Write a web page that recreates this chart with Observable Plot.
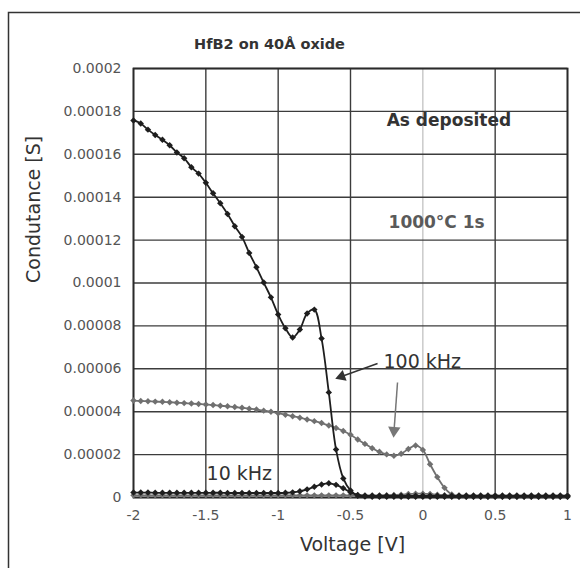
<!DOCTYPE html>
<html>
<head>
<meta charset="utf-8">
<script src="https://cdn.jsdelivr.net/npm/d3@7"></script>
<script src="https://cdn.jsdelivr.net/npm/@observablehq/plot@0.6"></script>
<style>
  html, body { margin: 0; padding: 0; background: #fff; overflow: hidden; }
</style>
</head>
<body>
<div id="chart"></div>
<script>
// Voltage sweep (V)
const voltage = [
  -2.00, -1.95, -1.90, -1.85, -1.80, -1.75, -1.70, -1.65, -1.60, -1.55,
  -1.50, -1.45, -1.40, -1.35, -1.30, -1.25, -1.20, -1.15, -1.10, -1.05,
  -1.00, -0.95, -0.90, -0.85, -0.80, -0.75, -0.70, -0.65, -0.60, -0.55,
  -0.50, -0.45, -0.40, -0.35, -0.30, -0.25, -0.20, -0.15, -0.10, -0.05,
   0.00,  0.05,  0.10,  0.15,  0.20,  0.25,  0.30,  0.35,  0.40,  0.45,
   0.50,  0.55,  0.60,  0.65,  0.70,  0.75,  0.80,  0.85,  0.90,  0.95,
   1.00
];

// Conductance values in microsiemens (µS)
// As deposited, 100 kHz (dark)
const asDep100k = [
  175.8, 174.4, 171.5, 169.0, 166.8, 164.2, 160.8, 158.2, 154.0, 151.0,
  146.7, 141.8, 137.2, 132.2, 126.5, 121.5, 114.0, 107.3, 100.2, 93.3,
  85.3, 78.9, 74.6, 78.3, 85.8, 87.6, 74.1, 49.0, 22.4, 8.9,
  3.3, 0.8, 0.4, 0.3, 0.3, 0.3, 0.3, 0.3, 0.3, 0.3,
  0.3, 0.3, 0.3, 0.3, 0.3, 0.3, 0.3, 0.3, 0.3, 0.3,
  0.3, 0.3, 0.3, 0.3, 0.3, 0.3, 0.3, 0.3, 0.3, 0.3,
  0.3
];
// As deposited, 10 kHz (dark)
const asDep10k = [
  2.3, 2.3, 2.3, 2.2, 2.2, 2.2, 2.2, 2.2, 2.2, 2.2,
  2.2, 2.2, 2.2, 2.1, 2.1, 2.1, 2.1, 2.1, 2.1, 2.1,
  2.1, 2.2, 2.4, 2.9, 3.8, 5.0, 6.1, 6.6, 5.9, 4.3,
  2.4, 1.2, 0.8, 0.8, 0.8, 0.8, 0.8, 0.8, 0.8, 0.8,
  0.8, 0.8, 0.8, 0.8, 0.8, 0.8, 0.8, 0.8, 0.8, 0.8,
  0.8, 0.8, 0.8, 0.8, 0.8, 0.8, 0.8, 0.8, 0.8, 0.8,
  0.8
];
// 1000°C 1s anneal, 100 kHz (gray)
const anneal100k = [
  45.2, 45.0, 44.9, 44.7, 44.6, 44.4, 44.2, 44.0, 43.8, 43.6,
  43.4, 43.1, 42.8, 42.5, 42.2, 41.8, 41.4, 41.0, 40.5, 40.0,
  39.3, 38.6, 37.9, 37.2, 36.4, 35.6, 34.7, 33.6, 32.4, 31.0,
  29.3, 27.0, 25.0, 23.0, 21.3, 20.1, 19.5, 20.4, 22.6, 24.2,
  22.2, 15.5, 9.5, 4.5, 1.4, 0.5, 0.3, 0.3, 0.3, 0.3,
  0.3, 0.3, 0.3, 0.3, 0.3, 0.3, 0.3, 0.3, 0.3, 0.3,
  0.3
];
// 1000°C 1s anneal, 10 kHz (gray)
const anneal10k = [
  1.0, 1.0, 1.0, 1.0, 1.0, 1.0, 1.0, 1.0, 1.0, 1.0,
  1.0, 1.0, 1.0, 1.0, 1.0, 1.0, 1.0, 1.0, 1.0, 1.0,
  1.0, 1.0, 1.0, 1.0, 1.0, 1.0, 1.0, 1.0, 1.0, 1.0,
  1.0, 1.0, 1.0, 1.0, 1.0, 1.1, 1.2, 1.3, 1.6, 1.8,
  1.8, 1.6, 1.3, 1.1, 1.0, 1.0, 1.0, 1.0, 1.0, 1.0,
  1.0, 1.0, 1.0, 1.0, 1.0, 1.0, 1.0, 1.0, 1.0, 1.0,
  1.0
];

// Axis ticks and labels
const xTicks = [-2, -1.5, -1, -0.5, 0, 0.5, 1];
const xTickLabels = ["-2", "-1.5", "-1", "-0.5", "0", "0.5", "1"];
const yTicks = [0, 0.00002, 0.00004, 0.00006, 0.00008, 0.0001, 0.00012, 0.00014, 0.00016, 0.00018, 0.0002];
const yTickLabels = ["0", "0.00002", "0.00004", "0.00006", "0.00008", "0.0001", "0.00012", "0.00014", "0.00016", "0.00018", "0.0002"];

// Texts
const titleText = "HfB2 on 40Å oxide";
const xLabel = "Voltage [V]";
const yLabel = "Condutance [S]";

// Annotations (data coordinates)
const labelAsDep = [{x: -0.25, y: 0.0001758, text: "As deposited"}];
const labelAnneal = [{x: -0.237, y: 0.0001282, text: "1000°C 1s"}];
const labelFreq = [
  {x: -0.272, y: 0.0000632, text: "100 kHz"},
  {x: -1.495, y: 0.0000110, text: "10 kHz"}
];
// Arrows: tail -> triangle centre
const arrowDark = [{x1: -0.313, y1: 0.0000625, x2: -0.562, y2: 0.0000564, angle: -109.6}];
const arrowGray = [{x1: -0.175, y1: 0.0000536, x2: -0.199, y2: 0.0000312, angle: -175.8}];

const toSeries = (vals) => voltage.map((v, i) => ({v, g: vals[i] * 1e-6}));
const sDep100 = toSeries(asDep100k);
const sDep10 = toSeries(asDep10k);
const sAnn100 = toSeries(anneal100k);
const sAnn10 = toSeries(anneal10k);

const dark = "#1e1e1e";
const gray = "#707070";
const gridColor = "#3c3c3c";

const xFmt = d => xTickLabels[Math.round((d + 2) / 0.5)];
const yFmt = d => yTickLabels[Math.round(d / 0.00002)];

const seriesMarks = (data, color) => [
  Plot.line(data, {x: "v", y: "g", stroke: color, strokeWidth: 1.8, curve: "catmull-rom"}),
  Plot.dot(data, {x: "v", y: "g", fill: color, symbol: "diamond2", r: 2.9})
];

const plot = Plot.plot({
  width: 580,
  height: 568,
  marginLeft: 133,
  marginRight: 13,
  marginTop: 68,
  marginBottom: 71,
  style: {fontFamily: "DejaVu Sans, Verdana, sans-serif", background: "#fff", color: "#555"},
  x: {domain: [-2, 1], label: null},
  y: {domain: [0, 0.0002], label: null},
  marks: [
    Plot.gridX(xTicks.filter(d => d !== 0), {stroke: gridColor, strokeOpacity: 1, strokeWidth: 1.4}),
    Plot.gridX([0], {stroke: "#c6c6c6", strokeOpacity: 1, strokeWidth: 1.4}),
    Plot.gridY(yTicks, {stroke: gridColor, strokeOpacity: 1, strokeWidth: 1.4}),
    Plot.frame({stroke: "#2a2a2a", strokeWidth: 1.8}),
    Plot.axisX(xTicks, {tickSize: 0, tickPadding: 13, fontSize: 14, tickFormat: xFmt, label: null}),
    Plot.axisY(yTicks, {tickSize: 0, tickPadding: 12, fontSize: 14, tickFormat: yFmt, label: null}),
    ...seriesMarks(sAnn10, gray),
    ...seriesMarks(sAnn100, gray),
    ...seriesMarks(sDep10, dark),
    ...seriesMarks(sDep100, dark),
    // arrows
    Plot.link(arrowDark, {x1: "x1", y1: "y1", x2: "x2", y2: "y2", stroke: "#333", strokeWidth: 1.5}),
    Plot.dot(arrowDark, {x: "x2", y: "y2", symbol: "triangle", r: 4.3, fill: "#333", rotate: "angle"}),
    Plot.link(arrowGray, {x1: "x1", y1: "y1", x2: "x2", y2: "y2", stroke: "#777", strokeWidth: 1.5}),
    Plot.dot(arrowGray, {x: "x2", y: "y2", symbol: "triangle", r: 4.6, fill: "#777", rotate: "angle"}),
    // annotations
    Plot.text(labelAsDep, {x: "x", y: "y", text: "text", textAnchor: "start", fontSize: 17, fontWeight: "bold", fill: "#333"}),
    Plot.text(labelAnneal, {x: "x", y: "y", text: "text", textAnchor: "start", fontSize: 17, fontWeight: "bold", fill: "#5a5a5a"}),
    Plot.text(labelFreq, {x: "x", y: "y", text: "text", textAnchor: "start", fontSize: 19, fill: "#333"}),
    // title and axis labels
    Plot.text([titleText], {frameAnchor: "top", text: d => d, dx: -81, dy: -30, fontSize: 14.5, fontWeight: "bold", fill: "#333"}),
    Plot.text([xLabel], {frameAnchor: "bottom", text: d => d, dx: 2, dy: 53, fontSize: 19, fill: "#333"}),
    Plot.text([yLabel], {frameAnchor: "left", text: d => d, dx: -100, rotate: -90, fontSize: 19, fill: "#333"})
  ]
});

// outer chart border
d3.select(plot).append("rect")
  .attr("x", 8.5).attr("y", 12.5)
  .attr("width", 600).attr("height", 600)
  .attr("fill", "none").attr("stroke", "#333").attr("stroke-width", 1.5);

document.getElementById("chart").appendChild(plot);
</script>
</body>
</html>
